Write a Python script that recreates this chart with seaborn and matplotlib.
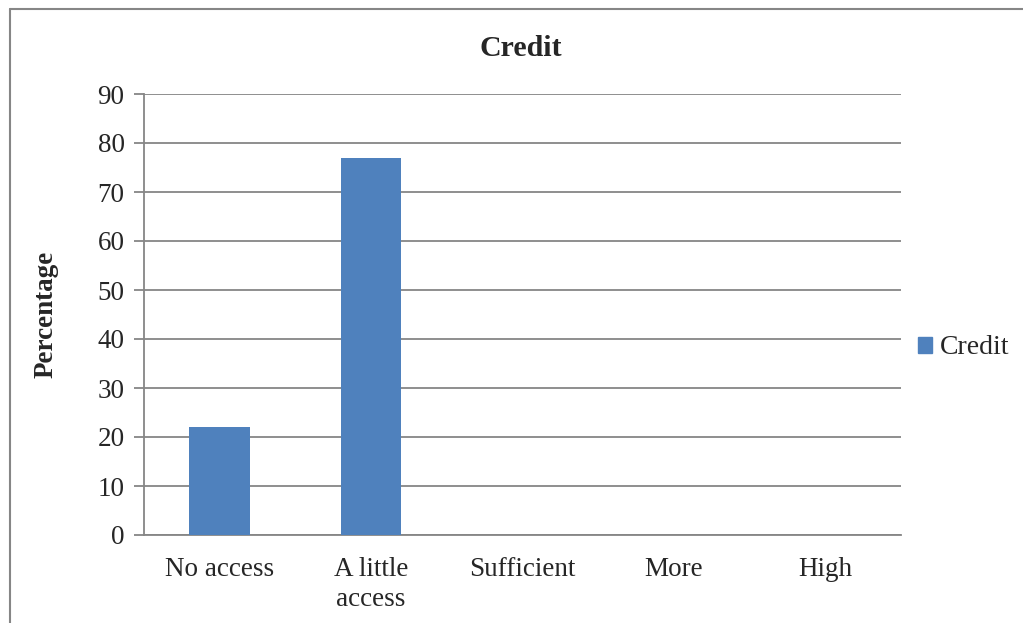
import matplotlib
matplotlib.use("Agg")
import matplotlib.pyplot as plt
import matplotlib.lines as mlines
import matplotlib.patches as mpatches
import seaborn as sns
import pandas as pd

categories = ["No access", "A little\naccess", "Sufficient", "More", "High"]
credit = [22, 77, 0, 0, 0]
yticks = [0, 10, 20, 30, 40, 50, 60, 70, 80, 90]

BAR = "#4F81BD"
GRID = "#868686"

sns.set_style("white")
plt.rcParams["font.family"] = ["Liberation Serif", "DejaVu Serif"]

W, H = 1023, 623
fig = plt.figure(figsize=(W / 100, H / 100), dpi=100)
ax = fig.add_axes([144 / W, (H - 535) / H, (901 - 144) / W, (535 - 94) / H])

df = pd.DataFrame({"category": categories, "value": credit})
sns.barplot(data=df, x="category", y="value", color=BAR, width=0.4,
            saturation=1, linewidth=0, ax=ax, zorder=3)

ax.set_ylim(0, 90)
ax.set_xlim(-0.5, len(categories) - 0.5)
ax.set_yticks(yticks)
ax.yaxis.grid(True, color=GRID, linewidth=1.3, zorder=0)
ax.set_axisbelow(True)
for s in ["top", "right"]:
    ax.spines[s].set_visible(False)
for s in ["left", "bottom"]:
    ax.spines[s].set_color(GRID)
    ax.spines[s].set_linewidth(1.3)
ax.tick_params(axis="y", left=True, length=7, width=1.3, color=GRID,
               labelsize=19.5, pad=7)
ax.tick_params(axis="x", bottom=False, labelsize=19.5, pad=12)
for t in ax.get_xticklabels():
    t.set_linespacing(1.3)
ax.set_xlabel("")
ax.set_ylabel("Percentage", fontsize=19.5, fontweight="bold", labelpad=28)

fig.text(521 / W, 1 - 49 / H, "Credit", ha="center", va="center",
         fontsize=21.5, fontweight="bold")

handle = mpatches.Patch(color=BAR, label="Credit")
fig.legend(handles=[handle], loc="center left",
           bbox_to_anchor=(904 / W, 1 - 348 / H), frameon=False,
           fontsize=20, handlelength=0.5, handleheight=0.5,
           handletextpad=0.3, borderpad=0)

# outer chart frame
fig.add_artist(mlines.Line2D([10 / W, 10 / W], [0, 1 - 9 / H],
                             transform=fig.transFigure, color=GRID, lw=1.5))
fig.add_artist(mlines.Line2D([10 / W, 1], [1 - 9 / H, 1 - 9 / H],
                             transform=fig.transFigure, color=GRID, lw=1.5))

fig.savefig("out.png", dpi=100)
